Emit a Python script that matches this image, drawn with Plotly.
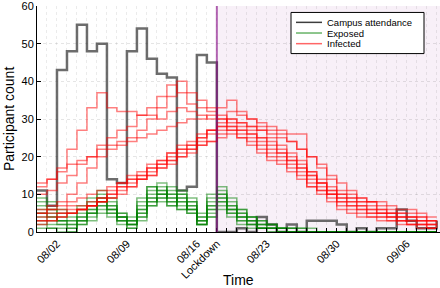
import pandas as pd
import plotly.graph_objects as go

start_date = "2021-07-31"
n_days = 41
lockdown_date = "2021-08-18"
axis_end = "2021-09-09 08:00"

tick_dates = ["2021-08-02", "2021-08-09", "2021-08-16", "2021-08-18", "2021-08-23", "2021-08-30", "2021-09-06"]
tick_labels = ["08/02", "08/09", "08/16", "Lockdown", "08/23", "08/30", "09/06"]

attendance = [11, 7, 43, 48, 55, 48, 50, 14, 13, 48, 54, 46, 42, 41, 11, 12, 47, 45, 0, 0,
              1, 0, 4, 2, 0, 2, 0, 3, 3, 3, 2, 0, 1, 0, 1, 1, 6, 3, 1, 1, 3]

infected_1 = [12, 14, 17, 22, 27, 33, 37, 33, 32, 32, 31, 31, 30, 32, 33, 32, 31, 30, 31, 30,
              29, 28, 27, 26, 25, 24, 22, 20, 17, 14, 11, 10, 9, 8, 7, 6, 5, 5, 4, 3, 3]
infected_2 = [10, 11, 13, 15, 18, 20, 23, 25, 27, 28, 31, 33, 36, 39, 37, 34, 33, 32, 33, 35,
              32, 30, 28, 27, 27, 26, 26, 12, 11, 10, 9, 9, 8, 8, 6, 5, 4, 4, 3, 2, 2]
infected_3 = [5, 6, 8, 10, 13, 17, 20, 22, 24, 25, 27, 30, 33, 36, 40, 37, 35, 33, 30, 29,
              28, 27, 25, 23, 21, 19, 17, 15, 13, 11, 9, 8, 7, 6, 5, 4, 4, 3, 3, 2, 2]
infected_4 = [13, 14, 16, 18, 19, 20, 22, 23, 23, 24, 25, 26, 27, 28, 29, 30, 30, 31, 30, 28,
              27, 26, 25, 24, 22, 20, 18, 16, 13, 11, 10, 8, 7, 6, 5, 5, 4, 4, 3, 3, 2]
infected_5 = [3, 4, 5, 5, 6, 7, 9, 11, 13, 15, 16, 18, 19, 21, 23, 24, 26, 27, 28, 30,
              29, 28, 27, 25, 23, 21, 19, 16, 14, 12, 10, 9, 8, 7, 6, 5, 5, 4, 4, 3, 3]
infected_6 = [2, 3, 4, 5, 6, 7, 8, 10, 12, 14, 15, 17, 18, 19, 21, 22, 24, 26, 27, 28,
              27, 26, 24, 22, 21, 19, 17, 15, 13, 10, 8, 7, 6, 5, 4, 4, 3, 2, 2, 1, 1]
infected_7 = [5, 6, 6, 7, 7, 8, 9, 10, 12, 13, 14, 15, 17, 18, 20, 21, 23, 24, 26, 27,
              26, 25, 23, 21, 20, 18, 16, 14, 12, 10, 8, 7, 6, 5, 5, 4, 3, 3, 2, 2, 1]
infected_8 = [4, 5, 5, 6, 6, 7, 8, 9, 10, 12, 14, 15, 17, 19, 20, 22, 23, 24, 25, 26,
              25, 24, 22, 20, 19, 17, 15, 13, 11, 9, 7, 6, 5, 4, 4, 3, 3, 2, 2, 1, 1]
infected_9 = [3, 3, 4, 5, 6, 7, 8, 9, 11, 12, 14, 16, 18, 20, 22, 23, 25, 27, 29, 32,
              31, 30, 29, 28, 26, 24, 22, 20, 18, 15, 13, 11, 9, 8, 8, 7, 6, 6, 5, 4, 4]
infected_10 = [6, 7, 7, 8, 9, 10, 11, 12, 13, 14, 15, 17, 19, 21, 22, 23, 25, 27, 28, 27,
               25, 23, 21, 19, 18, 16, 14, 12, 10, 8, 6, 5, 4, 4, 3, 3, 2, 2, 1, 1, 1]

exposed_1 = [9, 8, 6, 5, 7, 9, 10, 6, 4, 3, 8, 12, 10, 7, 9, 6, 3, 8, 10, 7, 5, 3, 2, 1, 1, 0, 0, 0, 0, 0, 0, 0, 0, 0, 0, 0, 0, 0, 0, 0, 0]
exposed_2 = [7, 6, 4, 3, 5, 8, 11, 8, 5, 2, 6, 10, 13, 9, 6, 8, 4, 10, 12, 8, 5, 4, 2, 2, 1, 1, 0, 0, 0, 0, 0, 0, 0, 0, 0, 0, 0, 0, 0, 0, 0]
exposed_3 = [5, 4, 3, 2, 3, 6, 8, 5, 3, 2, 5, 9, 11, 10, 8, 5, 2, 6, 9, 6, 4, 3, 2, 1, 1, 1, 1, 0, 0, 0, 0, 0, 0, 0, 0, 0, 0, 0, 0, 0, 0]
exposed_4 = [3, 2, 2, 1, 3, 5, 9, 7, 4, 3, 4, 8, 10, 12, 9, 6, 2, 5, 8, 5, 3, 2, 1, 1, 0, 0, 0, 0, 0, 0, 0, 0, 0, 0, 0, 0, 0, 0, 0, 0, 0]
exposed_5 = [2, 1, 1, 0, 2, 4, 6, 6, 3, 1, 3, 7, 9, 11, 10, 7, 3, 4, 7, 5, 4, 2, 1, 0, 0, 0, 0, 0, 0, 0, 0, 0, 0, 0, 0, 0, 0, 0, 0, 0, 0]
exposed_6 = [8, 6, 5, 4, 6, 7, 9, 7, 4, 2, 7, 11, 12, 8, 10, 8, 5, 9, 11, 9, 6, 4, 3, 2, 1, 1, 1, 1, 0, 0, 0, 0, 0, 0, 0, 0, 0, 0, 0, 0, 0]
exposed_7 = [4, 3, 3, 2, 4, 6, 7, 5, 3, 2, 6, 9, 8, 7, 11, 9, 4, 7, 9, 6, 4, 3, 1, 1, 0, 0, 0, 0, 0, 0, 0, 0, 0, 0, 0, 0, 0, 0, 0, 0, 0]
exposed_8 = [6, 5, 3, 3, 4, 5, 7, 6, 4, 3, 5, 8, 9, 10, 7, 5, 2, 6, 10, 7, 6, 4, 3, 2, 1, 0, 0, 0, 0, 0, 0, 0, 0, 0, 0, 0, 0, 0, 0, 0, 0]
exposed_9 = [1, 1, 0, 0, 2, 3, 5, 4, 2, 1, 4, 7, 10, 9, 8, 6, 2, 4, 6, 4, 2, 1, 1, 0, 0, 0, 0, 0, 0, 0, 0, 0, 0, 0, 0, 0, 0, 0, 0, 0, 0]
exposed_10 = [5, 4, 2, 1, 3, 5, 8, 9, 5, 4, 9, 12, 11, 8, 6, 7, 3, 7, 8, 6, 3, 2, 1, 1, 0, 0, 0, 0, 0, 0, 0, 0, 0, 0, 0, 0, 0, 0, 0, 0, 0]

exposed_runs = [exposed_1, exposed_2, exposed_3, exposed_4, exposed_5,
                exposed_6, exposed_7, exposed_8, exposed_9, exposed_10]
infected_runs = [infected_1, infected_2, infected_3, infected_4, infected_5,
                 infected_6, infected_7, infected_8, infected_9, infected_10]

dates = pd.date_range(start_date, periods=n_days, freq="D")

GRAY = "rgba(60,60,60,0.75)"
GREEN = "rgba(0,128,0,0.5)"
RED = "rgba(255,0,0,0.5)"
PURPLE = "rgba(128,0,128,0.6)"
FONT = "Liberation Sans, Arial, sans-serif"

fig = go.Figure()
fig.add_trace(go.Scatter(x=dates, y=attendance, mode="lines", line=dict(color=GRAY, width=2.5, shape="hv"),
                         name="Campus attendance", showlegend=False))
for run in exposed_runs:
    fig.add_trace(go.Scatter(x=dates, y=run, mode="lines", line=dict(color=GREEN, width=1.5, shape="hv"),
                             name="Exposed", showlegend=False))
for run in infected_runs:
    fig.add_trace(go.Scatter(x=dates, y=run, mode="lines", line=dict(color=RED, width=1.5, shape="hv"),
                             name="Infected", showlegend=False))

# shaded lockdown period
fig.add_shape(type="rect", xref="x", yref="paper", x0=lockdown_date, x1=axis_end, y0=0, y1=1,
              fillcolor="rgba(128,0,128,0.06)", line=dict(width=0), layer="below")
fig.add_shape(type="line", xref="x", yref="paper", x0=lockdown_date, x1=lockdown_date, y0=0, y1=1,
              line=dict(color=PURPLE, width=2), layer="above")

# manual legend
W, H = 440, 288
L, R, T, B = 37, 0, 4, 56
pw, ph = W - L - R, H - T - B
def px(x):
    return (x - L) / pw
def py(y):
    return (H - B - y) / ph

fig.add_shape(type="rect", xref="paper", yref="paper", x0=px(291), x1=px(424), y0=py(52), y1=py(10.5),
              fillcolor="white", line=dict(color="black", width=1), layer="above")
legend_items = [("Campus attendance", "rgba(40,40,40,0.9)", 20.5),
                ("Exposed", "rgba(0,128,0,0.6)", 31.25),
                ("Infected", "rgba(255,0,0,0.6)", 42)]
for label, col, yy in legend_items:
    fig.add_shape(type="line", xref="paper", yref="paper", x0=px(296), x1=px(322), y0=py(yy), y1=py(yy),
                  line=dict(color=col, width=1.5), layer="above")
    fig.add_annotation(xref="paper", yref="paper", x=px(326), y=py(yy), text=label, showarrow=False,
                       xanchor="left", yanchor="middle", borderpad=0,
                       font=dict(family=FONT, size=9.5, color="black"))

fig.add_annotation(xref="paper", yref="paper", x=px(9), y=py(118), text="Participant count", textangle=-90,
                   showarrow=False, xanchor="center", yanchor="middle", font=dict(family=FONT, size=14, color="black"))
fig.add_annotation(xref="paper", yref="paper", x=px(238), y=py(280), text="Time",
                   showarrow=False, xanchor="center", yanchor="middle", font=dict(family=FONT, size=14, color="black"))

fig.update_layout(
    width=W, height=H,
    margin=dict(l=L, r=R, t=T, b=B, pad=0),
    paper_bgcolor="white", plot_bgcolor="white",
    showlegend=False,
    font=dict(family=FONT, size=11, color="black"),
)
fig.update_xaxes(
    range=[start_date, axis_end],
    tickmode="array", tickvals=tick_dates, ticktext=tick_labels, tickangle=-45,
    ticks="inside", ticklen=4, tickcolor="black",
    showgrid=False, zeroline=False,
    showline=True, linecolor="black", linewidth=1,
    minor=dict(dtick=86400000, tick0=start_date, ticks="inside", ticklen=4, tickcolor="black",
               showgrid=True, gridcolor="rgba(0,0,0,0.08)", griddash="dot", gridwidth=1),
    tickfont=dict(family=FONT, size=11),
    ticklabeloverflow="allow",
)
fig.update_yaxes(
    range=[0, 60], tickvals=[0, 10, 20, 30, 40, 50, 60],
    ticks="inside", ticklen=4, tickcolor="black",
    showgrid=True, gridcolor="rgba(0,0,0,0.1)", griddash="dot", gridwidth=1,
    zeroline=False, showline=True, linecolor="black", linewidth=1,
    tickfont=dict(family=FONT, size=11),
    ticklabeloverflow="allow",
)

fig.write_html("out.html", config={"displayModeBar": False},
               post_script="document.body.style.margin='0';document.body.style.padding='0';")
